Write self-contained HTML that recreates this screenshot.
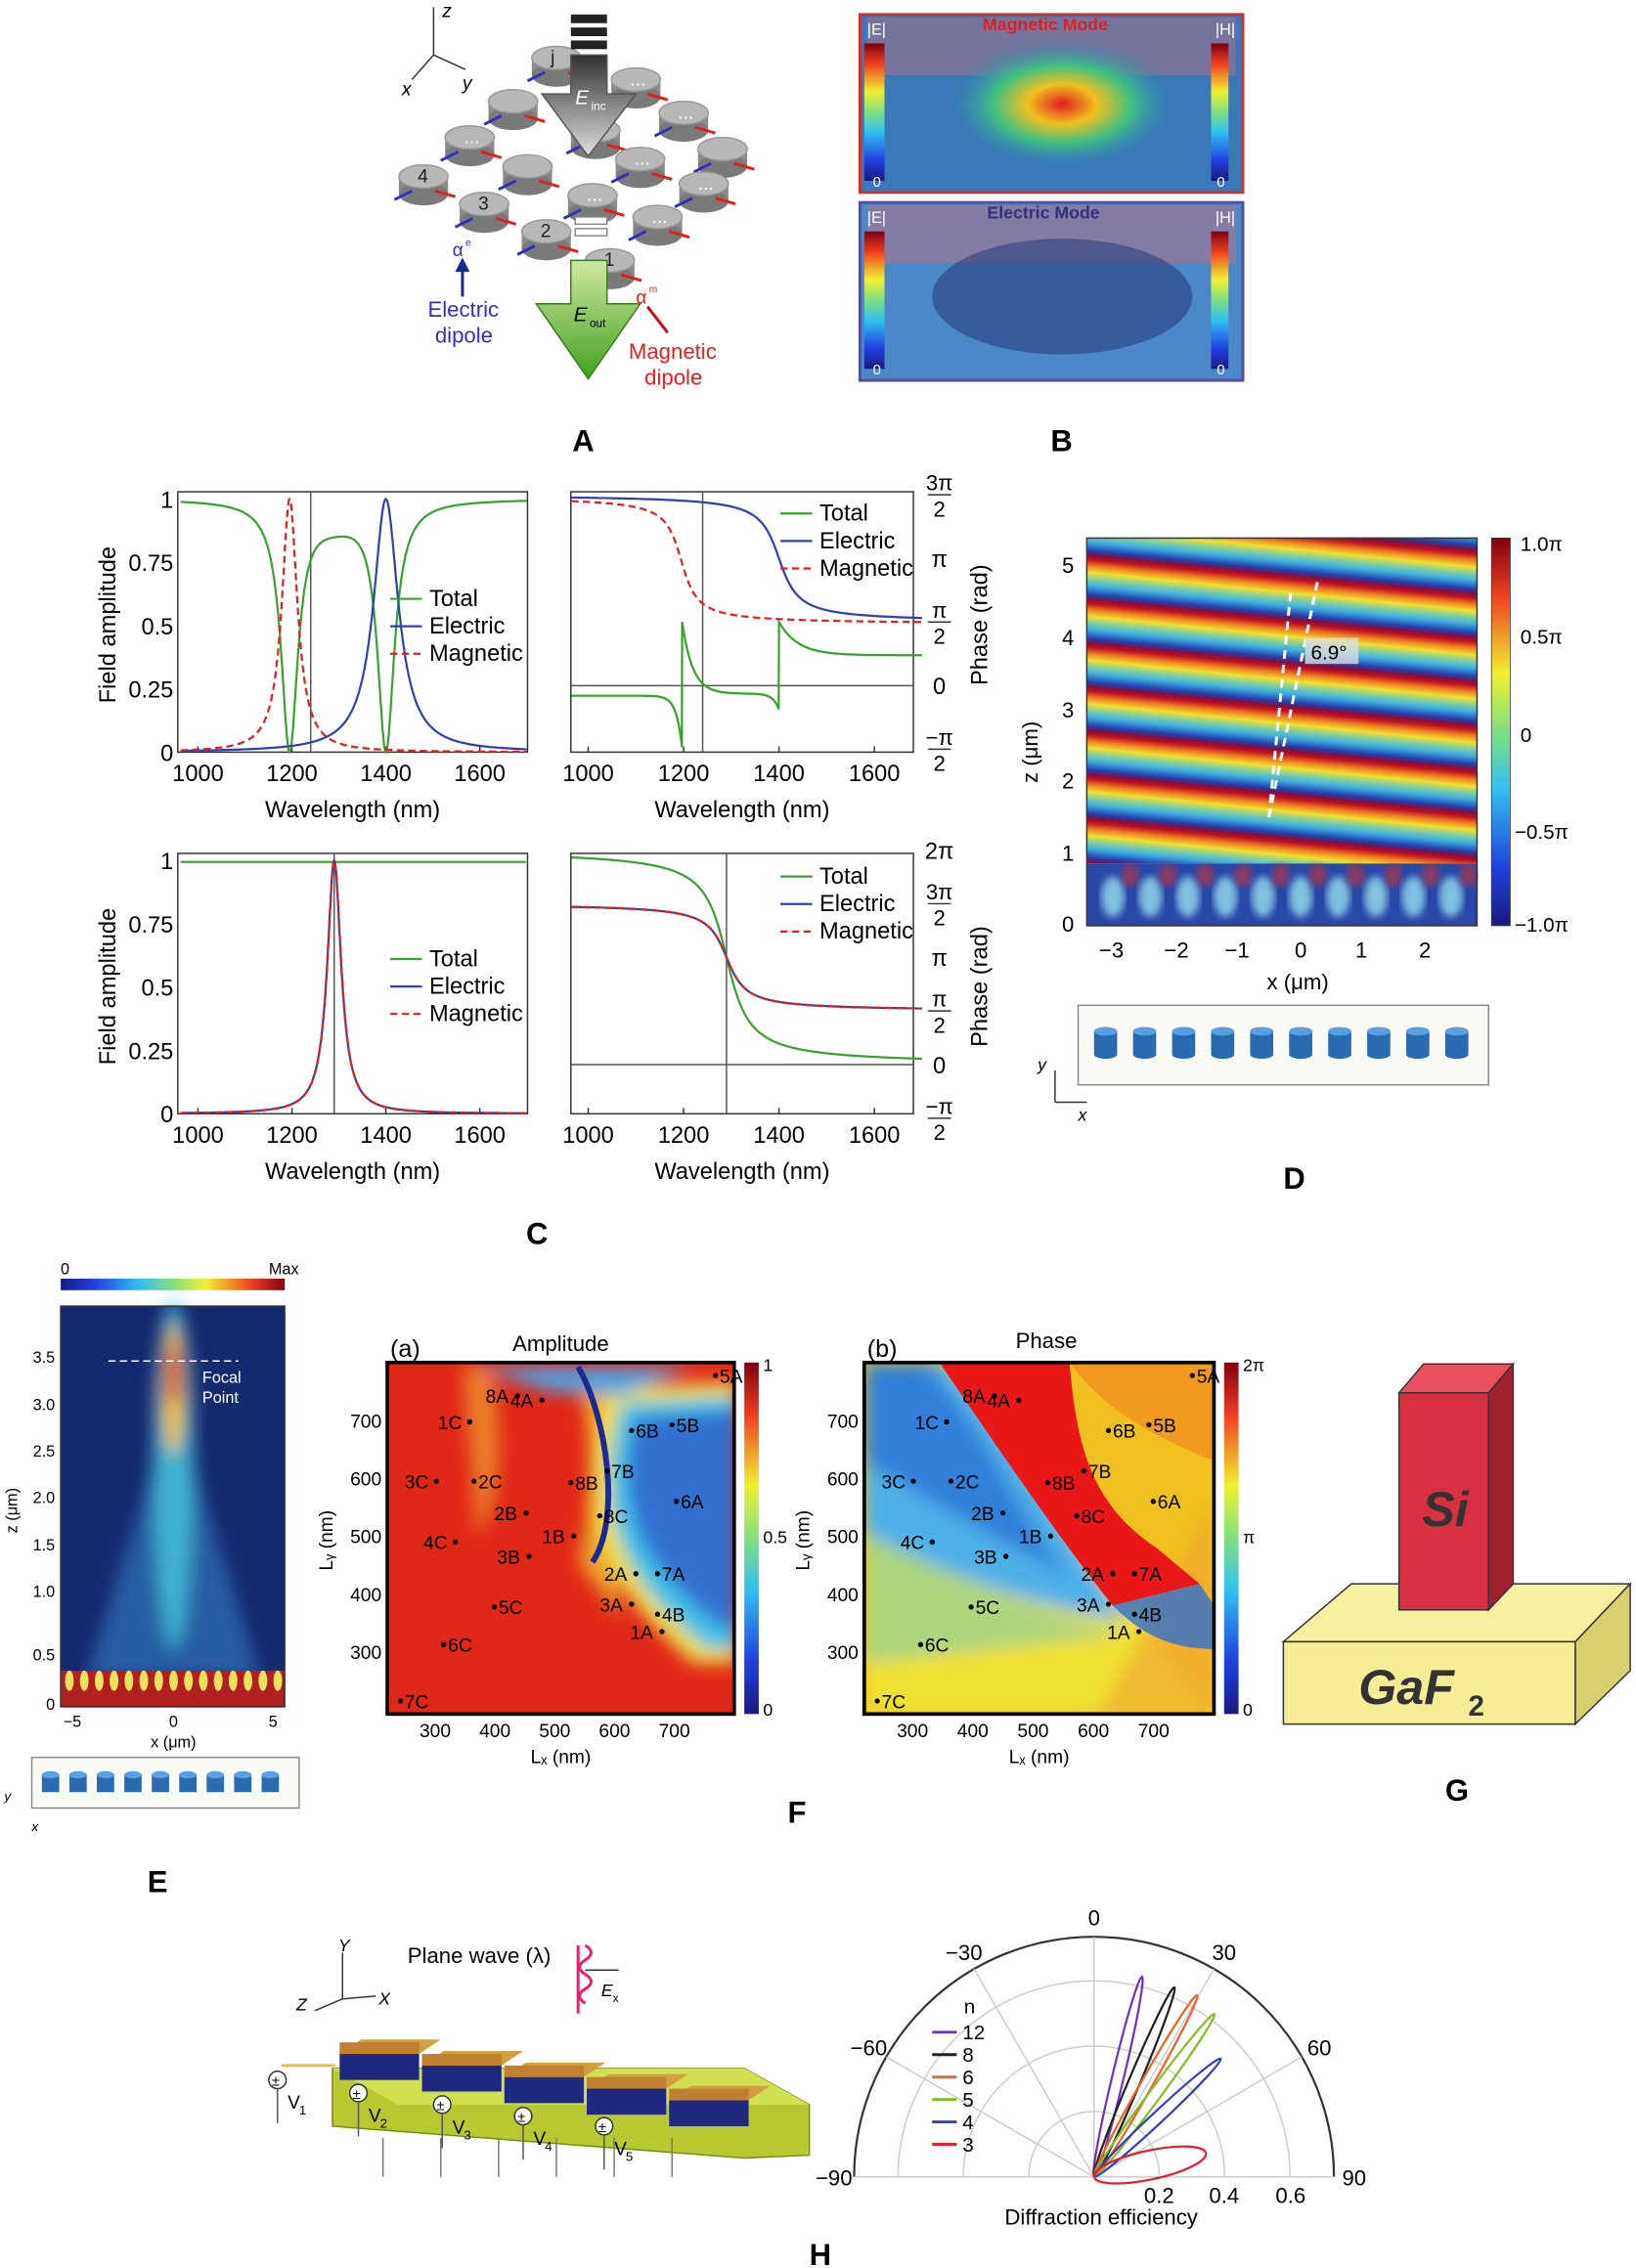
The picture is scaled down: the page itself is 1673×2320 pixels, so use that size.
<!DOCTYPE html>
<html><head><meta charset="utf-8"><style>
html,body{margin:0;padding:0;background:#fff}
svg{display:block}
text{font-family:"Liberation Sans",sans-serif}
</style></head><body>
<svg id="s" width="1673" height="2320" viewBox="0 0 1132 1568" preserveAspectRatio="none" xmlns="http://www.w3.org/2000/svg">
<defs>
<linearGradient id="jetV" x1="0" y1="1" x2="0" y2="0">
<stop offset="0" stop-color="#1a1a80"/><stop offset="0.15" stop-color="#2040e0"/><stop offset="0.35" stop-color="#30c0f0"/><stop offset="0.5" stop-color="#80e080"/><stop offset="0.65" stop-color="#f0f030"/><stop offset="0.85" stop-color="#f04020"/><stop offset="1" stop-color="#800010"/></linearGradient>
<linearGradient id="jetH" x1="0" y1="0" x2="1" y2="0">
<stop offset="0" stop-color="#1a1a80"/><stop offset="0.15" stop-color="#2040e0"/><stop offset="0.35" stop-color="#30c0f0"/><stop offset="0.5" stop-color="#80e080"/><stop offset="0.65" stop-color="#f0f030"/><stop offset="0.85" stop-color="#f04020"/><stop offset="1" stop-color="#800010"/></linearGradient>
<linearGradient id="stripe" gradientUnits="userSpaceOnUse" x1="0" y1="372" x2="-3" y2="402" spreadMethod="repeat">
<stop offset="0" stop-color="#c01020"/><stop offset="0.15" stop-color="#f08020"/><stop offset="0.3" stop-color="#f0e030"/><stop offset="0.45" stop-color="#80d0a0"/><stop offset="0.6" stop-color="#40b0e0"/><stop offset="0.8" stop-color="#2040b0"/><stop offset="0.9" stop-color="#801040"/><stop offset="1" stop-color="#c01020"/></linearGradient>
<radialGradient id="hot" cx="0.5" cy="0.5" r="0.5"><stop offset="0" stop-color="#e02020"/><stop offset="0.3" stop-color="#f0c020"/><stop offset="0.6" stop-color="#40c080"/><stop offset="1" stop-color="#3080c0" stop-opacity="0"/></radialGradient>
<filter id="bl"><feGaussianBlur stdDeviation="6"/></filter>
<filter id="bl2"><feGaussianBlur stdDeviation="2.5"/></filter>
<linearGradient id="garr" x1="0" y1="0" x2="0" y2="1"><stop offset="0" stop-color="#d0e8a0"/><stop offset="1" stop-color="#40a020"/></linearGradient>
<linearGradient id="darr" x1="0" y1="0" x2="0" y2="1"><stop offset="0" stop-color="#303030"/><stop offset="1" stop-color="#e0e0e0"/></linearGradient>
</defs>

<!-- Panel A -->
<g font-size="13">
<line x1="300" y1="5" x2="300" y2="38" stroke="#333"/><line x1="300" y1="38" x2="285" y2="55" stroke="#333"/><line x1="300" y1="38" x2="322" y2="48" stroke="#333"/>
<text x="306" y="12" font-style="italic">z</text><text x="278" y="66" font-style="italic">x</text><text x="320" y="62" font-style="italic">y</text>
<g id="discs"></g>
<rect x="395" y="10" width="25" height="6" fill="#222"/><rect x="395" y="19" width="25" height="6" fill="#222"/><rect x="395" y="28" width="25" height="6" fill="#222"/>
<polygon points="395,38 420,38 420,65 440,65 407,108 375,65 395,65" fill="url(#darr)" stroke="#555"/>
<text x="398" y="72" font-style="italic" fill="#fff" font-size="14">E</text><text x="409" y="76" font-size="8" fill="#fff">inc</text>
<rect x="398" y="150" width="22" height="5" fill="#fff" stroke="#888"/><rect x="398" y="158" width="22" height="5" fill="#fff" stroke="#888"/>
<polygon points="395,180 420,180 420,210 443,210 407,262 371,210 395,210" fill="url(#garr)" stroke="#3a7a20"/>
<text x="397" y="222" font-style="italic" font-size="14">E</text><text x="408" y="226" font-size="8">out</text>
<text x="313" y="177" fill="#3030c0">α</text><text x="322" y="170" fill="#3030c0" font-size="7">e</text>
<line x1="320" y1="205" x2="320" y2="183" stroke="#1a2a8a" stroke-width="2"/><polygon points="320,178 315,188 325,188" fill="#1a2a8a"/>
<text x="296" y="219" fill="#3030c0" font-size="15">Electric</text><text x="301" y="237" fill="#3030c0" font-size="15">dipole</text>
<text x="440" y="210" fill="#e02020">α</text><text x="449" y="202" fill="#e02020" font-size="7">m</text>
<line x1="462" y1="230" x2="448" y2="212" stroke="#c01010" stroke-width="2"/>
<text x="435" y="248" fill="#e02020" font-size="15">Magnetic</text><text x="446" y="266" fill="#e02020" font-size="15">dipole</text>
</g>
<text x="396" y="312" font-size="21" font-weight="bold">A</text>

<!-- Panel B -->
<g>
<rect x="595" y="10" width="265" height="123" fill="#3a78b8" stroke="#d03030" stroke-width="2"/>
<rect x="600" y="12" width="255" height="40" fill="#b07080" opacity="0.5"/>
<ellipse cx="735" cy="72" rx="80" ry="45" fill="url(#hot)"/>
<rect x="598" y="30" width="14" height="95" fill="url(#jetV)"/><rect x="838" y="30" width="12" height="95" fill="url(#jetV)"/>
<text x="600" y="24" font-size="11" fill="#fff">|E|</text><text x="841" y="24" font-size="11" fill="#fff">|H|</text>
<text x="680" y="21" font-size="12" fill="#e02020" font-weight="bold">Magnetic Mode</text>
<text x="604" y="129" font-size="10" fill="#fff">0</text><text x="842" y="129" font-size="10" fill="#fff">0</text>
<rect x="595" y="140" width="265" height="123" fill="#4a88c8" stroke="#5050a0" stroke-width="2"/>
<rect x="600" y="142" width="255" height="40" fill="#c07080" opacity="0.5"/>
<ellipse cx="735" cy="205" rx="90" ry="40" fill="#2a4080" opacity="0.6"/>
<rect x="598" y="160" width="14" height="95" fill="url(#jetV)"/><rect x="838" y="160" width="12" height="95" fill="url(#jetV)"/>
<text x="600" y="154" font-size="11" fill="#fff">|E|</text><text x="841" y="154" font-size="11" fill="#fff">|H|</text>
<text x="683" y="151" font-size="12" fill="#303080" font-weight="bold">Electric Mode</text>
<text x="604" y="259" font-size="10" fill="#fff">0</text><text x="842" y="259" font-size="10" fill="#fff">0</text>
</g>
<text x="727" y="312" font-size="21" font-weight="bold">B</text>

<!-- Panel C -->
<g id="C" font-size="16"></g>
<text x="364" y="860" font-size="21" font-weight="bold">C</text>

<!-- Panel D -->
<g>
<rect x="752" y="372" width="270" height="225" fill="url(#stripe)"/>
<rect x="752" y="597" width="270" height="43" fill="#2848a8"/>
<g id="dblobs"></g>
<line x1="878" y1="565" x2="893" y2="410" stroke="#fff" stroke-width="2" stroke-dasharray="6,4"/>
<line x1="878" y1="565" x2="912" y2="400" stroke="#fff" stroke-width="2" stroke-dasharray="6,4"/>
<rect x="903" y="441" width="37" height="18" fill="#ddd" opacity="0.8"/><text x="907" y="456" font-size="14">6.9°</text>
<rect x="752" y="372" width="270" height="268" fill="none" stroke="#333"/>
<rect x="1032" y="372" width="13" height="268" fill="url(#jetV)" stroke="#333" stroke-width="0.5"/>
<g font-size="14"><text x="1052" y="381">1.0π</text><text x="1052" y="445">0.5π</text><text x="1052" y="513">0</text><text x="1048" y="580">−0.5π</text><text x="1048" y="644">−1.0π</text></g>
<g font-size="15" text-anchor="middle"><text x="769" y="662">−3</text><text x="814" y="662">−2</text><text x="856" y="662">−1</text><text x="900" y="662">0</text><text x="942" y="662">1</text><text x="986" y="662">2</text>
<text x="898" y="684">x (μm)</text>
<text x="739" y="644">0</text><text x="739" y="595">1</text><text x="739" y="545">2</text><text x="739" y="496">3</text><text x="739" y="446">4</text><text x="739" y="396">5</text>
<text transform="translate(718,520) rotate(-90)">z (μm)</text></g>
<rect x="746" y="695" width="284" height="55" fill="#fbfbf6" stroke="#888"/>
<g id="dcyl"></g>
<text x="718" y="740" font-size="12" font-style="italic">y</text><text x="746" y="775" font-size="12" font-style="italic">x</text>
<line x1="730" y1="740" x2="730" y2="762" stroke="#333"/><line x1="730" y1="762" x2="752" y2="762" stroke="#333"/>
</g>
<text x="888" y="822" font-size="21" font-weight="bold">D</text>

<!-- Panel E -->
<g>
<rect x="42" y="884" width="155" height="8" fill="url(#jetH)"/>
<text x="42" y="881" font-size="11">0</text><text x="186" y="881" font-size="11">Max</text>
<rect x="42" y="903" width="155" height="277" fill="#142a70"/>
<g filter="url(#bl)">
<path d="M60 1160 L110 1000 L120 920 L130 1000 L180 1160 Z" fill="#2a6ab0" opacity="0.8"/>
<ellipse cx="120" cy="1020" rx="14" ry="120" fill="#40b0d0"/>
<ellipse cx="120" cy="960" rx="8" ry="45" fill="#f0c020"/>
<ellipse cx="120" cy="950" rx="5" ry="22" fill="#d02020"/>
</g>
<rect x="42" y="1155" width="155" height="25" fill="#b02020"/>
<g id="ebump"></g>
<line x1="75" y1="941" x2="165" y2="941" stroke="#fff" stroke-dasharray="5,3"/>
<text x="140" y="956" font-size="11" fill="#fff">Focal</text><text x="140" y="970" font-size="11" fill="#fff">Point</text>
<rect x="42" y="903" width="155" height="277" fill="none" stroke="#333"/>
<g font-size="11" text-anchor="end"><text x="38" y="942">3.5</text><text x="38" y="975">3.0</text><text x="38" y="1007">2.5</text><text x="38" y="1039">2.0</text><text x="38" y="1072">1.5</text><text x="38" y="1104">1.0</text><text x="38" y="1148">0.5</text><text x="38" y="1182">0</text></g>
<g font-size="11" text-anchor="middle"><text x="50" y="1194">−5</text><text x="120" y="1194">0</text><text x="189" y="1194">5</text><text x="120" y="1208">x (μm)</text></g>
<text transform="translate(12,1060) rotate(-90)" font-size="11">z (μm)</text>
<rect x="22" y="1215" width="185" height="35" fill="#fbfbf6" stroke="#888"/>
<g id="ecyl"></g>
<text x="3" y="1245" font-size="9" font-style="italic">y</text><text x="22" y="1266" font-size="9" font-style="italic">x</text>
</g>
<text x="102" y="1308" font-size="21" font-weight="bold">E</text>

<!-- Panel F -->
<g>
<text x="388" y="934" font-size="15" text-anchor="middle" font-family="Liberation Serif">Amplitude</text>
<text x="270" y="938" font-size="17" font-family="Liberation Serif">(a)</text>
<clipPath id="fa"><rect x="268" y="942" width="240" height="243"/></clipPath>
<g clip-path="url(#fa)">
<rect x="268" y="942" width="240" height="243" fill="#e02818"/>
<g filter="url(#bl)">
<path d="M400 1080 C 420 1000, 400 960, 395 945 L 420 945 C 430 1000, 420 1060, 430 1120 Z" fill="#f0c030" opacity="0.8"/>
<path d="M320 945 L 340 945 C 350 1000, 345 1050, 330 1060 Z" fill="#f0a030" opacity="0.7"/>
<path d="M510 955 L 420 960 C 395 1040, 410 1090, 480 1150 L 510 1150 Z" fill="#f0e040"/>
<path d="M510 965 L 430 970 C 410 1040, 425 1090, 490 1140 L 510 1140 Z" fill="#40c0e8"/>
<path d="M510 975 L 440 980 C 425 1040, 440 1080, 500 1125 L 510 1125 Z" fill="#3070d0"/>
<path d="M330 945 L 480 945 L 430 965 L 380 962 Z" fill="#50a0e0"/>
</g>
<path d="M410 1080 C 430 1050, 420 980, 400 945" stroke="#1a2a90" stroke-width="4" fill="none"/>
</g>
<rect x="268" y="942" width="240" height="243" fill="none" stroke="#000" stroke-width="2.5"/>
<rect x="515" y="942" width="10" height="243" fill="url(#jetV)"/>
<g font-size="12" font-family="Liberation Serif"><text x="528" y="948">1</text><text x="528" y="1067">0.5</text><text x="528" y="1186">0</text></g>

<text x="724" y="932" font-size="15" text-anchor="middle" font-family="Liberation Serif">Phase</text>
<text x="600" y="938" font-size="17" font-family="Liberation Serif">(b)</text>
<clipPath id="fb"><rect x="598" y="942" width="242" height="243"/></clipPath>
<g clip-path="url(#fb)">
<rect x="598" y="942" width="242" height="243" fill="#f0c020"/>
<g filter="url(#bl)">
<path d="M598 942 L 660 942 C 720 1000, 740 1060, 800 1130 L 840 1185 L 598 1185 Z" fill="#f0e030"/>
<path d="M598 942 L 655 942 C 710 1000, 730 1050, 780 1120 C 700 1110, 640 1080, 598 1060 Z" fill="#50b0e8"/>
<path d="M598 942 L 640 942 C 690 1000, 700 1040, 740 1090 C 680 1060, 630 1030, 598 1010 Z" fill="#3080d8"/>
<path d="M598 1060 C 640 1080, 700 1110, 780 1130 L 598 1150 Z" fill="#90d0a0" opacity="0.7"/>
<path d="M840 1040 L 840 1185 L 760 1185 Z" fill="#f0a030" opacity="0.6"/>
</g>
<path d="M650 942 L 740 942 C 745 1000, 755 1040, 800 1070 L 830 1095 L 770 1110 C 730 1060, 690 1000, 650 942 Z" fill="#e81818"/>
<path d="M740 942 L 840 942 L 840 1010 C 790 990, 760 970, 740 942 Z" fill="#f08020" opacity="0.6"/>
<path d="M770 1110 L 830 1095 L 840 1110 L 840 1140 C 810 1140, 790 1130, 770 1110 Z" fill="#3070d0" opacity="0.8"/>
</g>
<rect x="598" y="942" width="242" height="243" fill="none" stroke="#000" stroke-width="2.5"/>
<rect x="847" y="942" width="10" height="243" fill="url(#jetV)"/>
<g font-size="12" font-family="Liberation Serif"><text x="860" y="948">2π</text><text x="860" y="1067">π</text><text x="860" y="1186">0</text></g>
<g id="Ftext" font-size="12" font-family="Liberation Serif"></g>
</g>
<text x="545" y="1260" font-size="21" font-weight="bold">F</text>

<!-- Panel G -->
<g>
<polygon points="888,1135 1090,1135 1128,1095 935,1095" fill="#f6f0a0" stroke="#333"/>
<polygon points="888,1135 1090,1135 1090,1192 888,1192" fill="#f5ee96" stroke="#333"/>
<polygon points="1090,1135 1128,1095 1128,1155 1090,1192" fill="#d8d070" stroke="#333"/>
<polygon points="968,963 1030,963 1047,943 985,943" fill="#e85060" stroke="#333"/>
<rect x="968" y="963" width="62" height="150" fill="#d83040" stroke="#333"/>
<polygon points="1030,963 1047,943 1047,1095 1030,1113" fill="#a02030" stroke="#333"/>
<text x="984" y="1055" font-size="34" font-weight="bold" font-style="italic" font-family="Liberation Serif" fill="#333">Si</text>
<text x="940" y="1178" font-size="34" font-weight="bold" font-style="italic" font-family="Liberation Serif" fill="#333">GaF</text><text x="1016" y="1186" font-size="20" font-weight="bold" font-family="Liberation Serif" fill="#333">2</text>
</g>
<text x="1000" y="1245" font-size="21" font-weight="bold">G</text>

<!-- Panel H -->
<g>
<line x1="237" y1="1350" x2="237" y2="1382" stroke="#333"/><line x1="237" y1="1382" x2="218" y2="1390" stroke="#333"/><line x1="237" y1="1382" x2="260" y2="1380" stroke="#333"/>
<text x="234" y="1349" font-size="12" font-style="italic" font-family="Liberation Serif">Y</text><text x="205" y="1390" font-size="12" font-style="italic" font-family="Liberation Serif">Z</text><text x="262" y="1386" font-size="12" font-style="italic" font-family="Liberation Serif">X</text>
<text x="282" y="1357" font-size="15">Plane wave (λ)</text>
<path d="M405 1345 q8 5 0 10 q-8 5 0 10 q8 5 0 10 q-8 5 0 10" stroke="#e02070" fill="none" stroke-width="2"/>
<line x1="400" y1="1345" x2="400" y2="1392" stroke="#e02070" stroke-width="2"/>
<line x1="405" y1="1362" x2="428" y2="1362" stroke="#333"/><text x="416" y="1380" font-size="12" font-style="italic" font-family="Liberation Serif">E</text><text x="424" y="1384" font-size="8">x</text>
<polygon points="230,1430 515,1430 560,1455 560,1490 515,1492 230,1470" fill="#b8c830" stroke="#7a8a10"/>
<polygon points="230,1430 515,1430 560,1455 275,1455" fill="#d0e050"/>
<g id="helec"></g>
<g id="hsrc" font-size="11" font-family="Liberation Serif"></g>
<line x1="195" y1="1428" x2="232" y2="1428" stroke="#e0c040" stroke-width="2"/>
</g>
<g id="polar"></g>
<text x="560" y="1566" font-size="21" font-weight="bold">H</text>
</svg>
<script>
const NS="http://www.w3.org/2000/svg";
function el(p,tag,a,txt){const e=document.createElementNS(NS,tag);for(const k in a)e.setAttribute(k,a[k]);if(txt!==undefined)e.textContent=txt;p.appendChild(e);return e;}
const $=id=>document.getElementById(id);
(function(){const g=$('discs');
const P=[[385,40,'j'],[440,55,'...'],[355,70,''],[473,78,'...'],[412,90,''],[325,95,'...'],[500,103,''],[443,110,'...'],[365,115,''],[293,122,'4'],[410,135,'...'],[335,141,'3'],[487,127,'...'],[455,150,'...'],[378,160,'2'],[422,180,'1']];
P.forEach(p=>{const x=p[0],y=p[1],t=p[2];
el(g,'rect',{x:x-17,y:y,width:34,height:12,fill:'#8a8a8a'});
el(g,'ellipse',{cx:x,cy:y+12,rx:17,ry:8,fill:'#7a7a7a'});
el(g,'ellipse',{cx:x,cy:y,rx:17,ry:8,fill:'#b8b8b8',stroke:'#999'});
el(g,'line',{x1:x+8,y1:y+10,x2:x+22,y2:y+14,stroke:'#e02020','stroke-width':2});
el(g,'line',{x1:x-8,y1:y+10,x2:x-20,y2:y+16,stroke:'#3030c0','stroke-width':2});
if(t)el(g,'text',{x:x-4,y:y+4,'font-size':13,fill:t=='...'?'#fff':'#222'},t);});})();

(function(){const g=$('C');
function path(f,X,Y,a,b,attrs,step){let d='';for(let x=a;x<=b;x+=step||1){d+=(d?'L':'M')+X(x).toFixed(1)+' '+Y(f(x)).toFixed(1);}attrs.d=d;attrs.fill='none';el(g,'path',attrs);}
const L=(x,x0,w)=>w*w/((x-x0)*(x-x0)+w*w);
function axes(x0,y0,x1,y1,Xf){el(g,'rect',{x:x0,y:y0,width:x1-x0,height:y1-y0,fill:'none',stroke:'#333'});
[1000,1200,1400,1600].forEach(v=>{el(g,'text',{x:Xf(v),y:y1+20,'text-anchor':'middle'},String(v));el(g,'line',{x1:Xf(v),x2:Xf(v),y1:y1,y2:y1-4,stroke:'#333'});});
el(g,'text',{x:(x0+x1)/2,y:y1+45,'text-anchor':'middle'},'Wavelength (nm)');}
function ampY(x0,Y){[[0,'0'],[0.25,'0.25'],[0.5,'0.5'],[0.75,'0.75'],[1,'1']].forEach(v=>{el(g,'text',{x:x0-3,y:Y(v[0])+6,'text-anchor':'end'},v[1]);});}
function legend(x,y){[['#3aa030','Total',''],['#3040b0','Electric',''],['#e02020','Magnetic','5,3']].forEach((l,i)=>{el(g,'line',{x1:x,x2:x+22,y1:y+i*19,y2:y+i*19,stroke:l[0],'stroke-width':1.5,'stroke-dasharray':l[2]});el(g,'text',{x:x+27,y:y+i*19+5},l[1]);});}
function phaseLab(x,Y,list){list.forEach(it=>{const y=Y(it[0]);if(it[2]){el(g,'text',{x:x+8,y:y-3,'text-anchor':'middle','font-size':15},it[1]);el(g,'line',{x1:x,x2:x+16,y1:y,y2:y,stroke:'#333'});el(g,'text',{x:x+8,y:y+15,'text-anchor':'middle','font-size':15},it[2]);}else el(g,'text',{x:x+8,y:y+6,'text-anchor':'middle'},it[1]);});}
const PI=Math.PI;
let X=x=>137+(x-1000)*0.325,Y=v=>520-175*v;
axes(123,340,365,520,X);ampY(123,Y);
el(g,'text',{transform:'translate(80,432) rotate(-90)','text-anchor':'middle'},'Field amplitude');
el(g,'line',{x1:X(1240),x2:X(1240),y1:340,y2:520,stroke:'#555'});
path(x=>(1-L(x,1195,22))*(1-L(x,1400,22))*(1-0.07*Math.exp(-Math.pow((x-1290)/70,2))),X,Y,963,1700,{stroke:'#3aa030','stroke-width':1.5},1);
path(x=>L(x,1400,32),X,Y,963,1700,{stroke:'#3040b0','stroke-width':1.5});
path(x=>L(x,1195,20),X,Y,963,1700,{stroke:'#e02020','stroke-width':1.5,'stroke-dasharray':'5,3'});
legend(270,414);
X=x=>407+(x-1000)*0.33;Y=p=>474-28*p;
axes(395,340,632,520,X);
el(g,'line',{x1:X(1240),x2:X(1240),y1:340,y2:520,stroke:'#555'});
el(g,'line',{x1:395,x2:632,y1:474,y2:474,stroke:'#555'});
path(x=>PI-Math.atan((x-1400)/30),X,Y,965,1700,{stroke:'#3040b0','stroke-width':1.5});
path(x=>PI-Math.atan((x-1195)/25)-0.05,X,Y,965,1700,{stroke:'#e02020','stroke-width':1.5,'stroke-dasharray':'5,3'});
path(x=>{if(x<1197)return -0.25-(PI/2-0.25)*Math.exp(-(1197-x)/12);if(x<1400){const e=Math.exp(-(x-1197)/22);return PI/2*e-0.2*(1-e)-0.4*Math.exp(-(1400-x)/12);}const e=Math.exp(-(x-1400)/40);return PI/2*e+0.75*(1-e);},X,Y,965,1700,{stroke:'#3aa030','stroke-width':1.5},0.5);
phaseLab(642,Y,[[1.5*PI,'3π','2'],[PI,'π'],[PI/2,'π','2'],[0,'0'],[-PI/2,'−π','2']]);
el(g,'text',{transform:'translate(683,432) rotate(-90)','text-anchor':'middle'},'Phase (rad)');
legend(540,355);
X=x=>137+(x-1000)*0.325;Y=v=>770-175*v;
axes(123,590,365,770,X);ampY(123,Y);
el(g,'text',{transform:'translate(80,682) rotate(-90)','text-anchor':'middle'},'Field amplitude');
el(g,'line',{x1:X(1290),x2:X(1290),y1:590,y2:770,stroke:'#555'});
path(x=>0.995,X,Y,963,1700,{stroke:'#3aa030','stroke-width':1.5},5);
path(x=>L(x,1290,18),X,Y,963,1700,{stroke:'#3040b0','stroke-width':1.5});
path(x=>L(x,1290,18),X,Y,963,1700,{stroke:'#e02020','stroke-width':1.5,'stroke-dasharray':'5,3'});
legend(270,663);
X=x=>407+(x-1000)*0.33;Y=p=>736-23.6*p;
axes(395,590,632,770,X);
el(g,'line',{x1:X(1290),x2:X(1290),y1:590,y2:770,stroke:'#555'});
el(g,'line',{x1:395,x2:632,y1:736,y2:736,stroke:'#555'});
path(x=>PI-2*Math.atan((x-1290)/35),X,Y,965,1700,{stroke:'#3aa030','stroke-width':1.5});
path(x=>PI-Math.atan((x-1290)/30),X,Y,965,1700,{stroke:'#3040b0','stroke-width':1.5});
path(x=>PI-Math.atan((x-1290)/30),X,Y,965,1700,{stroke:'#e02020','stroke-width':1.5,'stroke-dasharray':'5,3'});
phaseLab(642,Y,[[2*PI,'2π'],[1.5*PI,'3π','2'],[PI,'π'],[PI/2,'π','2'],[0,'0'],[-PI/2,'−π','2']]);
el(g,'text',{transform:'translate(683,682) rotate(-90)','text-anchor':'middle'},'Phase (rad)');
legend(540,606);
})();

(function(){const g=$('dblobs');for(let i=0;i<10;i++){el(g,'ellipse',{cx:770+i*26,cy:620,rx:8,ry:14,fill:'#80c0e0',filter:'url(#bl2)'});el(g,'ellipse',{cx:782+i*26,cy:605,rx:6,ry:8,fill:'#d03030',opacity:0.6,filter:'url(#bl2)'});}
const c=$('dcyl');for(let i=0;i<10;i++){const x=765+i*27;el(c,'rect',{x:x-8,y:713,width:16,height:16,fill:'#2a6ab0'});el(c,'ellipse',{cx:x,cy:729,rx:8,ry:3,fill:'#2a6ab0'});el(c,'ellipse',{cx:x,cy:713,rx:8,ry:3,fill:'#5aa0e0'});}
const e=$('ebump');for(let i=0;i<15;i++){el(e,'ellipse',{cx:48+i*10.3,cy:1162,rx:3,ry:7,fill:'#f0e060'});}
const ec=$('ecyl');for(let i=0;i<9;i++){const x=35+i*19;el(ec,'rect',{x:x-6,y:1227,width:12,height:12,fill:'#2a6ab0'});el(ec,'ellipse',{cx:x,cy:1227,rx:6,ry:2.5,fill:'#5aa0e0'});}
})();

(function(){const g=$('Ftext');
function ax(x0,x1,y0){[[300,'300'],[400,'400'],[500,'500'],[600,'600'],[700,'700']].forEach(v=>{el(g,'text',{x:x0+(v[0]-220)*(x1-x0)/580,y:y0+16,'text-anchor':'middle','font-size':13},v[1]);});
el(g,'text',{x:(x0+x1)/2,y:y0+34,'text-anchor':'middle','font-size':13},'Lₓ (nm)');
[[300,'300'],[400,'400'],[500,'500'],[600,'600'],[700,'700']].forEach(v=>{el(g,'text',{x:x0-4,y:1175-(v[0]-220)*0.4+4,'text-anchor':'end','font-size':13},v[1]);});
el(g,'text',{transform:'translate('+(x0-38)+',1065) rotate(-90)','text-anchor':'middle','font-size':13},'Lᵧ (nm)');}
ax(268,508,1185);ax(598,840,1185);
const left={'8A':1,'4A':1,'1C':1,'3C':1,'2B':1,'1B':1,'4C':1,'3B':1,'2A':1,'3A':1,'1A':1};
const pts=[['5A',495,951],['8A',358,965],['4A',375,968],['1C',325,983],['6B',437,989],['5B',465,985],['3C',302,1024],['2C',328,1024],['8B',395,1025],['7B',420,1017],['6A',468,1038],['2B',364,1046],['8C',415,1048],['1B',397,1062],['4C',315,1066],['3B',366,1076],['2A',440,1088],['7A',455,1088],['3A',437,1109],['5C',342,1111],['4B',455,1116],['1A',458,1128],['6C',307,1137],['7C',277,1176]];
pts.forEach(p=>{const t=p[0],x=p[1],y=p[2];[0,330].forEach(dx=>{const X=x+dx;el(g,'circle',{cx:X,cy:y,r:1.8,fill:'#000'});el(g,'text',{x:left[t]?X-22:X+3,y:y+5,'font-size':13},t);});});
})();

(function(){const g=$('helec');
for(let i=0;i<5;i++){const x=235+i*57;
el(g,'polygon',{points:x+','+(1420+i*8)+' '+(x+55)+','+(1420+i*8)+' '+(x+70)+','+(1410+i*8)+' '+(x+15)+','+(1410+i*8),fill:'#d0a040'});
el(g,'rect',{x:x,y:1420+i*8,width:55,height:18,fill:'#202880'});
el(g,'rect',{x:x,y:1412+i*8,width:55,height:8,fill:'#c08030'});
}
const h=$('hsrc');[[192,1438,'1'],[248,1447,'2'],[306,1455,'3'],[362,1463,'4'],[418,1470,'5']].forEach(s=>{const x=s[0],y=s[1],n=s[2];
el(h,'circle',{cx:x,cy:y,r:6,fill:'#fff',stroke:'#333'});el(h,'text',{x:x-4,y:y+4,'font-size':10},'±');
el(h,'text',{x:x+7,y:y+20,'font-size':13},'V');el(h,'text',{x:x+15,y:y+24,'font-size':9},n);
el(h,'line',{x1:x,y1:y+6,x2:x,y2:y+30,stroke:'#555'});});
for(let i=0;i<6;i++){el(h,'line',{x1:265+i*40,y1:1478,x2:265+i*40,y2:1505,stroke:'#777'});}
})();

(function(){const g=$('polar');const cx=757,cy=1505,R=166;
el(g,'path',{d:'M'+(cx-R)+' '+cy+' A'+R+' '+R+' 0 0 1 '+(cx+R)+' '+cy,fill:'none',stroke:'#333','stroke-width':1.5});
[0.2,0.4,0.6].forEach(r=>{const rr=r*226;el(g,'path',{d:'M'+(cx-rr)+' '+cy+' A'+rr+' '+rr+' 0 0 1 '+(cx+rr)+' '+cy,fill:'none',stroke:'#ccc'});});
for(let a=-90;a<=90;a+=30){const t=a*Math.PI/180;el(g,'line',{x1:cx,y1:cy,x2:cx+R*Math.sin(t),y2:cy-R*Math.cos(t),stroke:'#ccc'});
const lx=cx+(R+14)*Math.sin(t),ly=cy-(R+14)*Math.cos(t)+6;el(g,'text',{x:lx,y:ly,'text-anchor':'middle','font-size':15},a<0?'−'+(-a):String(a));}
[[13.5,0.63,'#7030c0',4],[23,0.63,'#202020',4],[29.6,0.64,'#f06020',4],[36.5,0.62,'#80c020',4],[47,0.53,'#3040c0',4],[78,0.35,'#e02030',10]].forEach(l=>{const a=l[0],r=l[1],c=l[2];const len=r*226;const t=a*Math.PI/180;
const mx=cx+len/2*Math.sin(t),my=cy-len/2*Math.cos(t);el(g,'ellipse',{cx:mx,cy:my,rx:len/2,ry:l[3],transform:'rotate('+(a-90)+' '+mx+' '+my+')',fill:'none',stroke:c,'stroke-width':1.5});});
[['0.2',802],['0.4',847],['0.6',893]].forEach(t=>el(g,'text',{x:t[1],y:1523,'text-anchor':'middle','font-size':15},t[0]));
el(g,'text',{x:762,y:1538,'text-anchor':'middle','font-size':15},'Diffraction efficiency');
el(g,'text',{x:667,y:1392,'font-size':14},'n');
[['12','#7030c0'],['8','#202020'],['6','#f06020'],['5','#80c020'],['4','#3040c0'],['3','#e02030']].forEach((l,i)=>{const y=1405+i*15.5;el(g,'line',{x1:645,x2:662,y1:y,y2:y,stroke:l[1],'stroke-width':2});el(g,'text',{x:666,y:y+5,'font-size':14},l[0]);});
})();
</script>
</body></html>
